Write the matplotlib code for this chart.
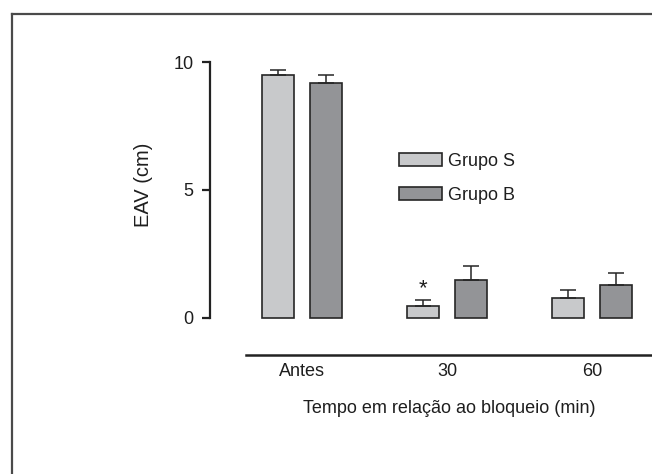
import matplotlib
matplotlib.use("Agg")
import matplotlib.pyplot as plt
from matplotlib.lines import Line2D
import numpy as np

plt.rcParams['font.family'] = ['Liberation Sans', 'DejaVu Sans']

categories = ["Antes", "30", "60"]
grupo_s = [9.49, 0.44, 0.77]
grupo_s_err = [0.20, 0.24, 0.32]
grupo_b = [9.18, 1.48, 1.26]
grupo_b_err = [0.31, 0.52, 0.49]
series_labels = ["Grupo S", "Grupo B"]
yticks = [0, 5, 10]

W, H = 652, 474
fig = plt.figure(figsize=(W / 100, H / 100), dpi=100)

# axes placement in pixels
left_px, right_px = 210, 652
top_px, bottom_px = 62.3, 354.7
aw, ah = right_px - left_px, bottom_px - top_px
ax = fig.add_axes([left_px / W, 1 - bottom_px / H, aw / W, ah / H])

grp_px = 145.0
c0_px = 302.0
xmin = (left_px - c0_px) / grp_px
xmax = (right_px - c0_px) / grp_px
ymin = -(bottom_px - 317.5) / ((317.5 - top_px) / 10)
ax.set_xlim(xmin, xmax)
ax.set_ylim(ymin, 10)

x = np.arange(len(categories))
bw = 32 / grp_px
off = 24 / grp_px
light = "#c8c9cb"
dark = "#939497"
edge = "#262626"
txt = "#1e1e1e"
fs = 13

err_kw = dict(ecolor=edge, elinewidth=1.1, capsize=5.8, capthick=1.1)
ax.bar(x - off, grupo_s, bw, color=light, edgecolor=edge, linewidth=1.2,
       yerr=[np.zeros(3), grupo_s_err], error_kw=err_kw, label=series_labels[0], zorder=2)
ax.bar(x + off, grupo_b, bw, color=dark, edgecolor=edge, linewidth=1.2,
       yerr=[np.zeros(3), grupo_b_err], error_kw=err_kw, label=series_labels[1], zorder=2)

# significance marker
ax.text(x[1] - off, grupo_s[1] + grupo_s_err[1] + 0.02, "*", ha="center", va="bottom",
        fontsize=16, color=txt)

for s in ["top", "right"]:
    ax.spines[s].set_visible(False)
ax.spines["left"].set_bounds(0, 10)
ax.spines["left"].set_linewidth(1.6)
ax.spines["left"].set_color("#222222")
ax.spines["bottom"].set_bounds((245.7 - c0_px) / grp_px, xmax)
ax.spines["bottom"].set_linewidth(1.8)
ax.spines["bottom"].set_color("#222222")

ax.set_yticks(yticks)
ax.set_yticklabels([str(t) for t in yticks])
ax.tick_params(axis="y", length=6, width=1.6, pad=6, labelsize=fs, color="#222222", labelcolor=txt)
ax.set_xticks(x)
ax.set_xticklabels(categories)
ax.tick_params(axis="x", length=0, pad=6, labelsize=fs, labelcolor=txt)

ax.set_ylabel("EAV (cm)", fontsize=14.5, color=txt)
ax.yaxis.set_label_coords((153 - left_px) / aw, (bottom_px - 185) / ah)
ax.set_xlabel("Tempo em relação ao bloqueio (min)", fontsize=fs, color=txt)
ax.xaxis.set_label_coords((449 - left_px) / aw, -(400 - bottom_px) / ah)

leg = ax.legend(loc="upper left", bbox_to_anchor=((399 - left_px) / aw, 1 - (153 - top_px) / ah),
                frameon=False, fontsize=fs, handlelength=2.4, handleheight=0.7,
                labelspacing=0.92, handletextpad=0.3, borderaxespad=0, borderpad=0)
for t in leg.get_texts():
    t.set_color(txt)

# outer frame (left and top only)
fx, fy = 12 / W, 1 - 14 / H
fig.add_artist(Line2D([fx, fx], [0, fy], transform=fig.transFigure, color="#4a4a4a", lw=1.6))
fig.add_artist(Line2D([fx, 1], [fy, fy], transform=fig.transFigure, color="#4a4a4a", lw=1.6))

fig.savefig("out.png", dpi=100)
